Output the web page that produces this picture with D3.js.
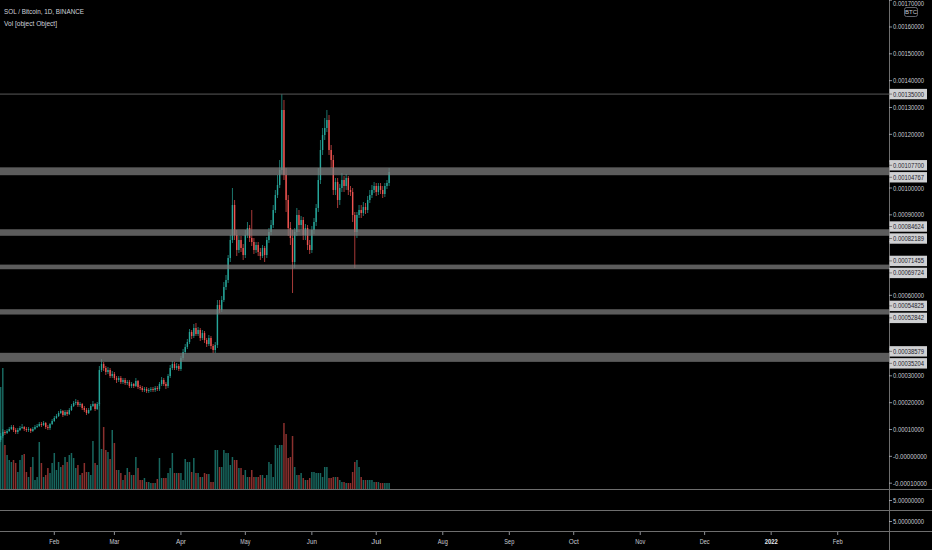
<!DOCTYPE html>
<html lang="en">
<head>
  <meta charset="UTF-8" />
  <title>SOL / Bitcoin, 1D, BINANCE</title>
  <script src="https://d3js.org/d3.v7.min.js"></script>
  <style>
    html, body { margin: 0; padding: 0; background: #000; overflow: hidden; }
    svg { display: block; font-family: "Liberation Sans", Arial, sans-serif; }
  </style>
</head>
<body>
<svg id="chart" width="932" height="550"></svg>
<script>
  // ---- data (prices in satoshi, 1e-8 BTC; volume in thousand SOL) ----
  const firstDay = Date.UTC(2021, 0, 7);
  const firstOpen = 6090;

  const closes = [
    7580, 9070, 8700, 9440, 10190, 10930, 9810, 9070, 9810, 10560,
    10930, 10190, 9810, 10190, 9440, 10190, 10930, 11300, 12050, 11680,
    12420, 10930, 10560, 12050, 13170, 14290, 15030, 16150, 16890, 15400,
    16520, 15780, 17270, 18760, 19880, 20250, 19130, 19500, 18010, 17270,
    16150, 17270, 18760, 19500, 17640, 19500, 32170, 34410, 32920, 31430,
    32170, 29940, 30680, 29190, 28450, 29190, 27700, 28450, 27330, 27700,
    26210, 26960, 26210, 28070, 25840, 25470, 24720, 25090, 24350, 24720,
    25090, 24720, 25470, 25090, 26960, 28450, 26960, 26210, 29940, 32920,
    34410, 32920, 33670, 32550, 36650, 38880, 40750, 42610, 46340, 44840,
    47830, 45590, 47080, 44100, 45960, 43350, 41860, 44100, 41120, 39630,
    41490, 56400, 54530, 58260, 63110, 65710, 73910, 80620, 93670, 82490,
    76900, 80620, 77640, 75030, 82490, 85090, 81370, 79880, 76900, 78760,
    76150, 74660, 77640, 75030, 80620, 83600, 86210, 91800, 97390, 101120,
    106710, 129070, 104850, 95530, 85090, 81370, 72420, 83600, 89940, 86210,
    88080, 82490, 85090, 78760, 76900, 84350, 87330, 92550, 102980, 114160,
    119750, 122360, 125340, 114160, 110440, 99260, 102240, 95530, 100000, 102980,
    100750, 103730, 99260, 98510, 89940, 83600, 89940, 91800, 90680, 92920,
    91800, 95530, 97390, 99260, 100750, 98510, 100750, 99260, 97760, 100750,
    101860, 105960
  ];

  const highs = [
    8700, 10190, 9810, 10190, 10930, 11680, 11680, 10560, 10560, 11300,
    12050, 11300, 10930, 10930, 10560, 10930, 11680, 12050, 12800, 12800,
    13170, 12800, 11680, 12420, 13910, 15030, 15780, 16890, 17640, 17270,
    17270, 17270, 18010, 19500, 20620, 21370, 20990, 20250, 19880, 18760,
    18010, 18010, 19500, 20620, 19880, 20250, 33670, 36270, 35160, 33670,
    33290, 32920, 31800, 31430, 29940, 29940, 29940, 29190, 29190, 28450,
    28450, 27700, 27330, 29190, 28450, 26580, 26210, 25840, 25840, 25470,
    25840, 25840, 26210, 26210, 27700, 29570, 29190, 27700, 30680, 34040,
    35530, 35160, 34780, 34410, 37390, 40000, 41860, 43730, 47450, 47080,
    49320, 49690, 48200, 47830, 47080, 46710, 44100, 45220, 44840, 41860,
    42610, 58260, 58260, 59750, 64970, 67580, 75030, 82490, 100000, 95530,
    84350, 82110, 82110, 79130, 84350, 87330, 86210, 91800, 81370, 79880,
    79880, 77640, 78760, 78390, 81740, 85090, 88080, 93670, 99260, 104850,
    110440, 135030, 132800, 107450, 97390, 87330, 84350, 85090, 92550, 91800,
    89570, 89190, 86580, 86210, 80620, 85840, 88820, 94040, 107450, 117890,
    122360, 126090, 129070, 127210, 116030, 112300, 103730, 103730, 101490, 105590,
    104470, 105220, 104470, 100750, 100000, 91060, 91060, 93670, 93670, 94780,
    94410, 97020, 99260, 101120, 102240, 101860, 101860, 101860, 100750, 101860,
    102980, 107450
  ];

  const lows = [
    5340, 6830, 7950, 8320, 9070, 9810, 9070, 8320, 8320, 9440,
    10190, 9440, 9070, 9070, 8700, 9070, 9810, 10560, 10930, 10930,
    11300, 10190, 9810, 9810, 11680, 12800, 13910, 14660, 15780, 14660,
    15030, 15030, 15400, 16890, 18390, 19130, 18390, 18390, 17270, 16520,
    15400, 15780, 16890, 18390, 16890, 17270, 18760, 31430, 31800, 30310,
    30680, 29190, 29190, 28450, 27330, 27700, 26960, 26960, 26580, 26580,
    25470, 25470, 25470, 25840, 25090, 24720, 23980, 23980, 23600, 23600,
    23980, 23980, 23980, 24350, 24350, 26210, 26210, 25090, 25470, 29190,
    32170, 32170, 32170, 31800, 31800, 35900, 38140, 40000, 41860, 43730,
    44100, 44840, 44840, 42980, 43350, 42240, 40750, 41120, 40000, 38510,
    38510, 40370, 53420, 53790, 57520, 61990, 64600, 72420, 79500, 80620,
    74660, 75780, 76150, 73170, 73910, 81370, 79880, 78390, 75400, 75780,
    74660, 73170, 73910, 72420, 73910, 79500, 82490, 85090, 90680, 96270,
    100000, 105220, 102980, 91060, 82110, 78760, 60870, 70190, 82110, 83600,
    84350, 80620, 80620, 76900, 75400, 75780, 82860, 85840, 91060, 101490,
    112300, 117890, 120870, 112300, 107450, 97390, 97390, 92550, 93670, 98510,
    98510, 99260, 97390, 97020, 87330, 70190, 81370, 88820, 88820, 89570,
    90310, 90680, 94410, 96270, 98140, 97020, 97390, 97760, 96270, 96650,
    99630, 100750
  ];

  const volumes = [
    1020, 1210, 440, 340, 290, 270, 290, 260, 170, 290,
    340, 350, 170, 120, 220, 320, 90, 120, 470, 260,
    120, 140, 210, 160, 260, 360, 190, 270, 220, 240,
    320, 270, 340, 360, 310, 210, 240, 140, 160, 260,
    170, 170, 140, 480, 260, 240, 860, 400, 620, 390,
    370, 300, 590, 460, 190, 190, 160, 90, 140, 210,
    170, 140, 140, 320, 210, 90, 90, 110, 70, 70,
    60, 60, 60, 100, 310, 110, 110, 110, 160, 210,
    360, 160, 160, 160, 160, 90, 300, 270, 270, 170,
    310, 160, 160, 120, 120, 160, 150, 150, 70, 70,
    390, 390, 220, 220, 390, 360, 360, 240, 320, 290,
    290, 210, 210, 140, 190, 120, 120, 190, 120, 120,
    120, 140, 140, 110, 140, 270, 250, 120, 440, 410,
    440, 440, 660, 550, 310, 320, 530, 220, 140, 140,
    160, 110, 90, 90, 110, 170, 170, 160, 160, 160,
    120, 220, 220, 110, 110, 120, 120, 120, 90, 70,
    70, 60, 60, 60, 170, 270, 290, 220, 120, 90,
    90, 90, 90, 90, 70, 70, 70, 60, 60, 60,
    60, 60
  ];

  // support / resistance zones [low, high] in satoshi, and the top line
  const zones = [[104767, 107700], [82189, 84624], [69724, 71455], [52842, 54825], [35204, 38579]];
  const topLine = 135000;

  const priceTicks = [0.0017, 0.0016, 0.0015, 0.0014, 0.0013, 0.0012, 0.0011, 0.0010, 0.0009,
    0.0008, 0.0007, 0.0006, 0.0005, 0.0004, 0.0003, 0.0002, 0.0001, 0, -0.0001];
  const paneLabels = ["5.00000000", "5.00000000"];
  const titleText = "SOL / Bitcoin, 1D, BINANCE";
  const volText = "Vol [object Object]";

  // ---- layout ----
  const W = 932, H = 550;
  const plotRight = 889;
  const mainBottom = 489, pane2Bottom = 510, pane3Bottom = 531;
  const upColor = "#26a69a", downColor = "#ef5350";
  const lineColor = "#6e6e6e";
  const textColor = "#c9ccd4";

  const svg = d3.select("#chart");
  svg.append("rect").attr("width", W).attr("height", H).attr("fill", "#000");

  const x = d3.scaleUtc()
    .domain([new Date(Date.UTC(2021, 1, 1)), new Date(Date.UTC(2022, 1, 1))])
    .range([54.3, 837.7]);
  const y = d3.scaleLinear().domain([-0.0001217, 0.0017006]).range([mainBottom, 0]);
  const yVol = d3.scaleLinear().domain([0, 1250]).range([mainBottom, mainBottom - 125]);

  const sat = v => v * 1e-8;
  const fmt = v => Math.abs(v) < 1e-12 ? "-0.00000000" : v.toFixed(8);

  const bars = closes.map((c, i) => ({
    date: d3.utcDay.offset(new Date(firstDay), i),
    open: i ? closes[i - 1] : firstOpen,
    close: c,
    high: highs[i],
    low: lows[i],
    vol: volumes[i]
  }));

  const plot = svg.append("g");

  // volume
  plot.selectAll(".vol").data(bars).enter().append("rect")
    .attr("x", d => x(d.date) - 0.75)
    .attr("width", 1.5)
    .attr("y", d => yVol(d.vol))
    .attr("height", d => mainBottom - yVol(d.vol))
    .attr("fill", d => d.close >= d.open ? "rgba(38,166,154,0.62)" : "rgba(239,83,80,0.58)");

  // candles
  const candle = plot.selectAll(".candle").data(bars).enter().append("g");
  candle.append("line")
    .attr("x1", d => x(d.date)).attr("x2", d => x(d.date))
    .attr("y1", d => y(sat(d.high))).attr("y2", d => y(sat(d.low)))
    .attr("stroke", d => d.close >= d.open ? upColor : downColor)
    .attr("stroke-width", 0.7);
  candle.append("rect")
    .attr("x", d => x(d.date) - 0.7)
    .attr("width", 1.4)
    .attr("y", d => y(sat(Math.max(d.open, d.close))))
    .attr("height", d => Math.max(0.8, Math.abs(y(sat(d.open)) - y(sat(d.close)))))
    .attr("fill", d => d.close >= d.open ? upColor : downColor);

  // zones and top line
  plot.selectAll(".zone").data(zones).enter().append("rect")
    .attr("x", 0).attr("width", plotRight)
    .attr("y", d => y(sat(d[1])))
    .attr("height", d => y(sat(d[0])) - y(sat(d[1])))
    .attr("fill", "rgba(128,128,128,0.72)");
  plot.append("line")
    .attr("x1", 0).attr("x2", plotRight)
    .attr("y1", y(sat(topLine))).attr("y2", y(sat(topLine)))
    .attr("stroke", "#5a5a5a").attr("stroke-width", 1);

  // header
  svg.append("text").attr("x", 4).attr("y", 14)
    .attr("font-size", 8).attr("fill", "#d1d4dc")
    .attr("textLength", 80).attr("lengthAdjust", "spacingAndGlyphs")
    .text(titleText);
  svg.append("text").attr("x", 4).attr("y", 26)
    .attr("font-size", 8).attr("fill", "#d1d4dc")
    .attr("textLength", 53).attr("lengthAdjust", "spacingAndGlyphs")
    .text(volText);

  // separators
  [mainBottom, pane2Bottom, pane3Bottom].forEach(v => {
    svg.append("line").attr("x1", 0).attr("x2", W)
      .attr("y1", v + 0.5).attr("y2", v + 0.5)
      .attr("stroke", lineColor).attr("stroke-width", 1);
  });
  svg.append("line").attr("x1", plotRight + 0.5).attr("x2", plotRight + 0.5)
    .attr("y1", 0).attr("y2", H)
    .attr("stroke", lineColor).attr("stroke-width", 1);

  // zone label positions (pairs pushed apart when they would collide)
  const labelItems = [{ v: topLine, yy: y(sat(topLine)) }];
  zones.forEach(z => {
    let yHi = y(sat(z[1])), yLo = y(sat(z[0]));
    if (yLo - yHi < 12) {
      const mid = (yHi + yLo) / 2;
      yHi = mid - 6; yLo = mid + 6;
    }
    labelItems.push({ v: z[1], yy: yHi }, { v: z[0], yy: yLo });
  });

  // price axis
  const axis = svg.append("g");
  const axisText = (g, yy, label, fill) => {
    g.append("text").attr("x", 893).attr("y", yy + 2.5)
      .attr("font-size", 7).attr("fill", fill)
      .attr("textLength", label.length > 10 ? 34 : 31)
      .attr("lengthAdjust", "spacingAndGlyphs")
      .text(label);
  };
  priceTicks.forEach(v => {
    const yy = y(v);
    axis.append("line").attr("x1", plotRight).attr("x2", plotRight + 3)
      .attr("y1", yy).attr("y2", yy).attr("stroke", textColor).attr("stroke-width", 0.7);
    // tick labels hidden under a zone label are not drawn
    const covered = labelItems.some(d => Math.abs(d.yy - yy) < 9.5);
    if (!covered) axisText(axis, Math.max(yy, 3), fmt(v), textColor);
  });
  paneLabels.forEach((lab, i) => {
    const yy = i === 0 ? (mainBottom + pane2Bottom) / 2 + 1 : (pane2Bottom + pane3Bottom) / 2 + 1;
    axis.append("line").attr("x1", plotRight).attr("x2", plotRight + 3)
      .attr("y1", yy).attr("y2", yy).attr("stroke", textColor).attr("stroke-width", 0.7);
    axisText(axis, yy, lab, textColor);
  });

  // BTC unit box
  axis.append("rect").attr("x", 904.5).attr("y", 7.5).attr("width", 13).attr("height", 9)
    .attr("rx", 2).attr("fill", "#000").attr("stroke", "#787b86").attr("stroke-width", 0.8);
  axis.append("text").attr("x", 911).attr("y", 14.3).attr("text-anchor", "middle")
    .attr("font-size", 6).attr("fill", textColor).text("BTC");

  // zone labels
  labelItems.forEach(d => {
    axis.append("rect").attr("x", plotRight + 0.5).attr("y", d.yy - 5.2)
      .attr("width", 37.5).attr("height", 10.4).attr("fill", "#cfd0d2");
    axis.append("line").attr("x1", plotRight).attr("x2", plotRight + 3)
      .attr("y1", d.yy).attr("y2", d.yy).attr("stroke", "#555").attr("stroke-width", 0.7);
    axisText(axis, d.yy, fmt(sat(d.v)), "#1e222d");
  });

  // time axis
  const months = d3.utcMonth.range(new Date(Date.UTC(2021, 1, 1)), new Date(Date.UTC(2022, 2, 1)));
  const tAxis = svg.append("g");
  months.forEach(m => {
    const xx = x(m);
    const isYear = m.getUTCMonth() === 0;
    const label = isYear ? d3.utcFormat("%Y")(m) : d3.utcFormat("%b")(m);
    tAxis.append("line").attr("x1", xx).attr("x2", xx)
      .attr("y1", pane3Bottom + 1).attr("y2", pane3Bottom + 4)
      .attr("stroke", textColor).attr("stroke-width", 0.7);
    tAxis.append("text").attr("x", xx).attr("y", 543.5)
      .attr("text-anchor", "middle").attr("font-size", 7.5)
      .attr("font-weight", isYear ? "bold" : "normal")
      .attr("fill", isYear ? "#e6e8ee" : textColor)
      .attr("textLength", isYear ? 13 : 10).attr("lengthAdjust", "spacingAndGlyphs")
      .text(label);
  });
</script>
</body>
</html>
